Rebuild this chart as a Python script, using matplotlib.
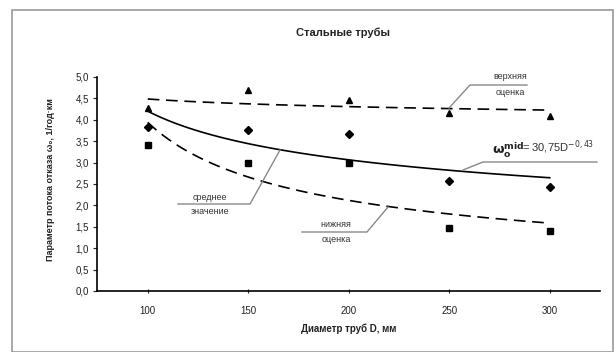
import numpy as np
import matplotlib
matplotlib.use('Agg')
import matplotlib.pyplot as plt
from matplotlib.patches import Rectangle

plt.rcParams['font.family'] = ['Liberation Sans', 'DejaVu Sans']

# data
diameters = ['100', '150', '200', '250', '300']
upper = [4.27, 4.70, 4.47, 4.16, 4.08]   # triangles
mean = [3.83, 3.75, 3.66, 2.58, 2.44]    # diamonds
lower = [3.40, 2.98, 3.00, 1.48, 1.41]   # squares
yticks = [0.0, 0.5, 1.0, 1.5, 2.0, 2.5, 3.0, 3.5, 4.0, 4.5, 5.0]

x = np.arange(1, len(diameters) + 1)


def power_trend(xs, ys):
    # excel style power trendline on category index
    b, lna = np.polyfit(np.log(xs), np.log(ys), 1)
    xx = np.linspace(xs[0], xs[-1], 100)
    return xx, np.exp(lna) * xx ** b


W, H = 614, 352
fig = plt.figure(figsize=(W / 100, H / 100), dpi=100)
ax = fig.add_axes([97.5 / W, 1 - 291 / H, 502.5 / W, 214 / H])

# outer frame
fig.patches.append(Rectangle((12 / W, 0), 601 / W, 1 - 10 / H, transform=fig.transFigure,
                             fill=False, edgecolor='#9a9a9a', linewidth=1.2))

tc = '#222222'
xx, yy = power_trend(x, upper)
ax.plot(xx, yy, color='black', linestyle=(0, (7, 4)), linewidth=1.2)
xx, yy = power_trend(x, mean)
ax.plot(xx, yy, color='black', linestyle='-', linewidth=1.2)
xx, yy = power_trend(x, lower)
ax.plot(xx, yy, color='black', linestyle=(0, (7, 4)), linewidth=1.2)

ax.plot(x, upper, linestyle='none', marker='^', color='black', markersize=5)
ax.plot(x, mean, linestyle='none', marker='D', color='black', markersize=4.5)
ax.plot(x, lower, linestyle='none', marker='s', color='black', markersize=4.5)

ax.set_xlim(0.5, 5.5)
ax.set_ylim(0, 5)
ax.set_xticks(x)
ax.set_xticklabels(diameters)
ax.set_yticks(yticks)
ax.set_yticklabels([f'{v:.1f}'.replace('.', ',') for v in yticks])
ax.tick_params(axis='x', direction='inout', length=3, labelsize=7, colors=tc, pad=9)
ax.tick_params(axis='y', direction='out', length=3, labelsize=7, colors=tc, pad=3)
for s in ['top', 'right']:
    ax.spines[s].set_visible(False)
for s in ['left', 'bottom']:
    ax.spines[s].set_color('black')
    ax.spines[s].set_linewidth(1.2)

ax.set_xlabel('Диаметр труб D, мм', fontsize=7, fontweight='bold', color=tc, labelpad=6)
fig.text(51 / W, 1 - 180 / H, 'Параметр потока отказа ω₀, 1/год·км', rotation=90,
         fontsize=6.5, fontweight='bold', color=tc, ha='center', va='center')
fig.text(343 / W, 1 - 33 / H, 'Стальные трубы', fontsize=8, fontweight='bold',
         color=tc, ha='center', va='center')


def px(p):
    # figure pixel (from top-left) -> axes data coords
    return 0.5 + (p[0] - 97.5) / 100.5, (291 - p[1]) / 42.8


def leader(points):
    pts = [px(p) for p in points]
    ax.plot([p[0] for p in pts], [p[1] for p in pts], color='#888888',
            linewidth=1, clip_on=False)


def label(cx, cy, s):
    x0, y0 = px((cx, cy))
    ax.text(x0, y0, s, fontsize=6.5, color='#333333', ha='center', va='center',
            clip_on=False)


leader([(449, 108), (470, 85), (527, 85)])
label(510, 77, 'верхняя')
label(510, 93, 'оценка')

leader([(280, 150), (250, 204), (178, 204)])
label(210, 198, 'среднее')
label(210, 212, 'значение')

leader([(388, 207), (367, 232), (302, 232)])
label(336, 225, 'нижняя')
label(336, 240, 'оценка')

leader([(463, 170), (483, 162), (597, 162)])
fx, fy = px((492, 150))
ax.text(fx, fy, r'$\mathbf{\omega_o^{mid}}$', fontsize=9.5, color='#222222',
        ha='left', va='center', clip_on=False)
gx, gy = px((522, 147))
ax.text(gx, gy, r'= 30,75D$^{-0,43}$', fontsize=8, color='#333333',
        ha='left', va='center', clip_on=False)

fig.savefig('out.png', dpi=100)
